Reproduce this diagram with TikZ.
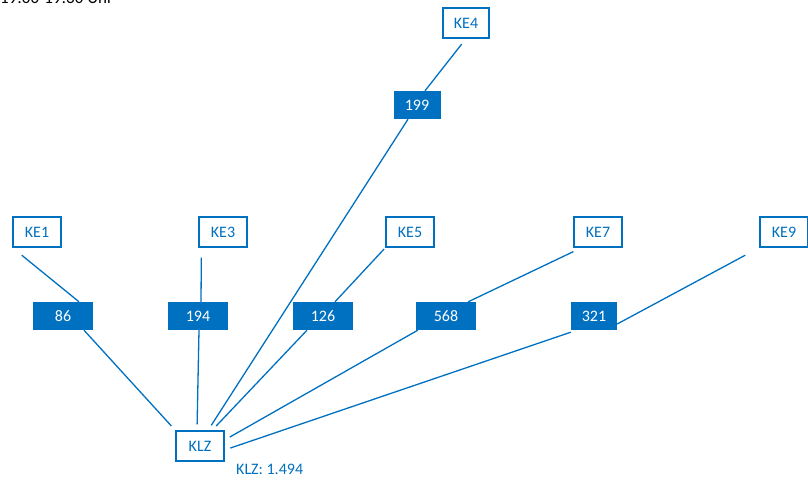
\documentclass[tikz,border=0pt]{standalone}
\usepackage{fontspec}
\setmainfont{Carlito}
\definecolor{keblue}{RGB}{0,112,192}
\begin{document}
\begin{tikzpicture}[x=1pt,y=-1pt,
	kebox/.style={draw=keblue,line width=1.2pt,fill=white,text=keblue,minimum width=48pt,minimum height=30pt,inner sep=0pt,font=\fontsize{16}{19}\selectfont},
	valbox/.style={fill=keblue,text=white,minimum width=60pt,minimum height=28pt,inner sep=0pt,font=\fontsize{16}{19}\selectfont},
	link/.style={draw=keblue,line width=1.3pt,shorten <=6pt,shorten >=6pt}]
	\useasboundingbox (0,0) rectangle (808,481);
	% Titel
	\node[anchor=base west,inner sep=0pt,font=\fontsize{17}{20}\selectfont] (titel) at (0,4) {19:00-19:30 Uhr};
	% Einzugsgebiete
	\node[kebox] (ke1) at (37,232) {KE1};
	\node[kebox] (ke3) at (223,232) {KE3};
	\node[kebox,minimum width=46pt] (ke4) at (466,23) {KE4};
	\node[kebox] (ke5) at (410,232) {KE5};
	\node[kebox] (ke7) at (598,232) {KE7};
	\node[kebox] (ke9) at (784,232) {KE9};
	\node[kebox] (klz) at (200,446) {KLZ};
	% Werte
	\node[valbox] (v1) at (63,316) {86};
	\node[valbox] (v3) at (198,316) {194};
	\node[valbox,minimum width=47pt] (v4) at (417,105) {199};
	\node[valbox] (v5) at (323,316) {126};
	\node[valbox] (v7) at (446,316) {568};
	\node[valbox,minimum width=46pt] (v9) at (594,316) {321};
	% Verbindungen
	\draw[link,shorten <=12pt,shorten >=0pt] (ke1.south west) -- ([xshift=16pt]v1.north);
	\draw[link,shorten <=0pt] ([xshift=21pt]v1.south) -- (klz.north west);
	\draw[link,shorten <=10pt,shorten >=0pt] ([xshift=3pt]ke3.south west) -- ([xshift=3pt]v3.north);
	\draw[link,shorten <=0pt] ([xshift=1pt]v3.south) -- ([xshift=-3pt]klz.north);
	\draw[link,shorten <=7pt,shorten >=0pt] (ke4.south) -- ([xshift=8pt]v4.north);
	\draw[link,shorten <=0pt] ([xshift=-9pt]v4.south) -- ([xshift=8pt]klz.north);
	\draw[link,shorten <=2pt,shorten >=0pt] (ke5.south west) -- ([xshift=12pt]v5.north);
	\draw[link,shorten <=0pt] ([xshift=-16pt]v5.south) -- ([xshift=12pt]klz.north);
	\draw[link,shorten <=0pt,shorten >=0pt] ([yshift=-4pt]ke7.south west) -- ([xshift=-8pt]v7.north east);
	\draw[link,shorten <=0pt] ([xshift=2pt]v7.south west) -- ([yshift=6pt]klz.east);
	\draw[link,shorten <=16pt,shorten >=0pt] (ke9.south west) -- ([yshift=-8pt]v9.east);
	\draw[link,shorten <=0pt] ([yshift=-2pt]v9.south west) -- ([yshift=-4pt]klz.east);
	% Summe
	\node[anchor=base west,inner sep=0pt,text=keblue,font=\fontsize{16}{19}\selectfont] (summe) at (236,474) {KLZ: 1.494};
\end{tikzpicture}
\end{document}
